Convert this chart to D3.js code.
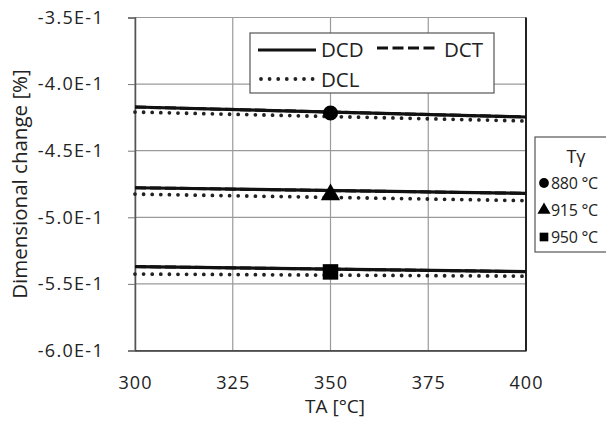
<!DOCTYPE html>
<html>
<head>
<meta charset="utf-8">
<script src="https://cdn.jsdelivr.net/npm/d3@7"></script>
<style>
  body { margin: 0; background: #fff; }
  text { font-family: "Open Sans", "Noto Sans", sans-serif; fill: #222; }
</style>
</head>
<body>
<div id="chart"></div>
<script>
// data
var temps = [300, 400]            // TA [°C]
var tgLabels = ['880 °C', '915 °C', '950 °C']
var tgShapes = ['circle', 'triangle', 'square']
var dcd = [[-0.4172, -0.4247], [-0.4778, -0.4820], [-0.5370, -0.5408]]
var dct = [[-0.4172, -0.4247], [-0.4778, -0.4820], [-0.5370, -0.5408]]
var dcl = [[-0.4210, -0.4277], [-0.4826, -0.4875], [-0.5426, -0.5442]]
var markX = 350
var markY = [-0.4217, -0.4830, -0.5410]
var yTicks = [-0.35, -0.40, -0.45, -0.50, -0.55, -0.60]
var xTicks = [300, 325, 350, 375, 400]

var W = 606, H = 422
var svg = d3.select('#chart').append('svg')
    .attr('width', W).attr('height', H)

var x = d3.scaleLinear().domain([300, 400]).range([135, 526])
var y = d3.scaleLinear().domain([-0.60, -0.35]).range([350.5, 17.5])

// grid
svg.append('g').selectAll('line.gy')
    .data(yTicks).enter().append('line')
    .attr('x1', 135).attr('x2', 526)
    .attr('y1', d => y(d)).attr('y2', d => y(d))
    .attr('stroke', '#9a9a9a').attr('stroke-width', 1.2)
svg.append('g').selectAll('line.gx')
    .data(xTicks).enter().append('line')
    .attr('x1', d => x(d)).attr('x2', d => x(d))
    .attr('y1', 17.5).attr('y2', 350.5)
    .attr('stroke', '#9a9a9a').attr('stroke-width', 1.2)

// axes
var yAxis = d3.axisLeft(y).tickValues(yTicks).tickSize(7).tickPadding(24)
var gy = svg.append('g').attr('transform', 'translate(135,0)').call(yAxis)
gy.select('.domain').attr('stroke', '#555').attr('stroke-width', 1.5)
gy.selectAll('.tick line').attr('stroke', '#777')
gy.selectAll('.tick text').attr('font-size', 18).attr('fill', '#222')
    .attr('letter-spacing', 1.3)
    .text(d => (d * 10).toFixed(1) + 'E-1')

var xAxis = d3.axisBottom(x).tickValues(xTicks).tickSize(0).tickPadding(26)
var gx = svg.append('g').attr('transform', 'translate(0,350.5)').call(xAxis)
gx.select('.domain').attr('stroke', '#333').attr('stroke-width', 1.5)
gx.selectAll('.tick text').attr('font-size', 18).attr('fill', '#222')
    .attr('letter-spacing', 1)

// right border
svg.append('line').attr('x1', 526).attr('x2', 526).attr('y1', 17.5).attr('y2', 351)
    .attr('stroke', '#222').attr('stroke-width', 2)

var line = d3.line().x((d, i) => x(temps[i])).y(d => y(d))

// DCL dotted
svg.append('g').selectAll('path')
    .data(dcl).enter().append('path')
    .attr('d', line).attr('fill', 'none').attr('stroke', '#222')
    .attr('stroke-width', 3.8).attr('stroke-linecap', 'round')
    .attr('stroke-dasharray', '0,8.6')
// DCT dashed (lies under DCD)
svg.append('g').selectAll('path')
    .data(dct).enter().append('path')
    .attr('d', line).attr('fill', 'none').attr('stroke', '#111')
    .attr('stroke-width', 3).attr('stroke-dasharray', '11,4')
// DCD solid
svg.append('g').selectAll('path')
    .data(dcd).enter().append('path')
    .attr('d', line).attr('fill', 'none').attr('stroke', '#111')
    .attr('stroke-width', 3.2)

var symType = { circle: d3.symbolCircle, triangle: d3.symbolTriangle, square: d3.symbolSquare }
var symSize = { circle: 180, triangle: 160, square: 240 }

svg.append('g').selectAll('path')
    .data(markY).enter().append('path')
    .attr('transform', d => 'translate(' + x(markX) + ',' + y(d) + ')')
    .attr('d', (d, i) => d3.symbol().type(symType[tgShapes[i]]).size(symSize[tgShapes[i]])())
    .attr('fill', '#000')

// legend 1
var lg = svg.append('g')
lg.append('rect').attr('x', 250).attr('y', 33).attr('width', 244).attr('height', 60)
    .attr('fill', '#fff').attr('stroke', '#555').attr('stroke-width', 1.2)
lg.append('line').attr('x1', 258).attr('x2', 316).attr('y1', 50).attr('y2', 50)
    .attr('stroke', '#111').attr('stroke-width', 3.2)
lg.append('text').attr('x', 321).attr('y', 57).attr('font-size', 20.5).text('DCD')
lg.append('line').attr('x1', 377).attr('x2', 437).attr('y1', 48).attr('y2', 48)
    .attr('stroke', '#111').attr('stroke-width', 3.2).attr('stroke-dasharray', '11,4.5')
lg.append('text').attr('x', 444).attr('y', 57).attr('font-size', 20.5).text('DCT')
lg.append('line').attr('x1', 261).attr('x2', 313).attr('y1', 79).attr('y2', 79)
    .attr('stroke', '#222').attr('stroke-width', 3.8).attr('stroke-linecap', 'round')
    .attr('stroke-dasharray', '0,8.6')
lg.append('text').attr('x', 321).attr('y', 87).attr('font-size', 20.5).text('DCL')

// legend 2 (runs to the right edge, as in the original)
var lg2 = svg.append('g')
lg2.append('rect').attr('x', 535).attr('y', 137).attr('width', 90).attr('height', 115)
    .attr('fill', '#fff').attr('stroke', '#555').attr('stroke-width', 1.2)
lg2.append('text').attr('x', 576).attr('y', 163).attr('text-anchor', 'middle')
    .attr('font-size', 18).text('Tγ')
lg2.selectAll('g.row').data(tgLabels).enter().append('g')
    .attr('transform', (d, i) => 'translate(0,' + (183 + i * 27) + ')')
    .each(function (d, i) {
      var g = d3.select(this)
      g.append('path').attr('transform', 'translate(544,0)')
        .attr('d', d3.symbol().type(symType[tgShapes[i]]).size(75)())
        .attr('fill', '#000')
      g.append('text').attr('x', 551).attr('y', 6).attr('font-size', 16)
        .attr('letter-spacing', -0.3).text(d)
    })

// axis titles
svg.append('text').attr('transform', 'translate(27,184) rotate(-90)')
    .attr('text-anchor', 'middle').attr('font-size', 20.5).text('Dimensional change [%]')
svg.append('text').attr('x', 335).attr('y', 413).attr('text-anchor', 'middle')
    .attr('font-size', 19).text('TA [°C]')
</script>
</body>
</html>
